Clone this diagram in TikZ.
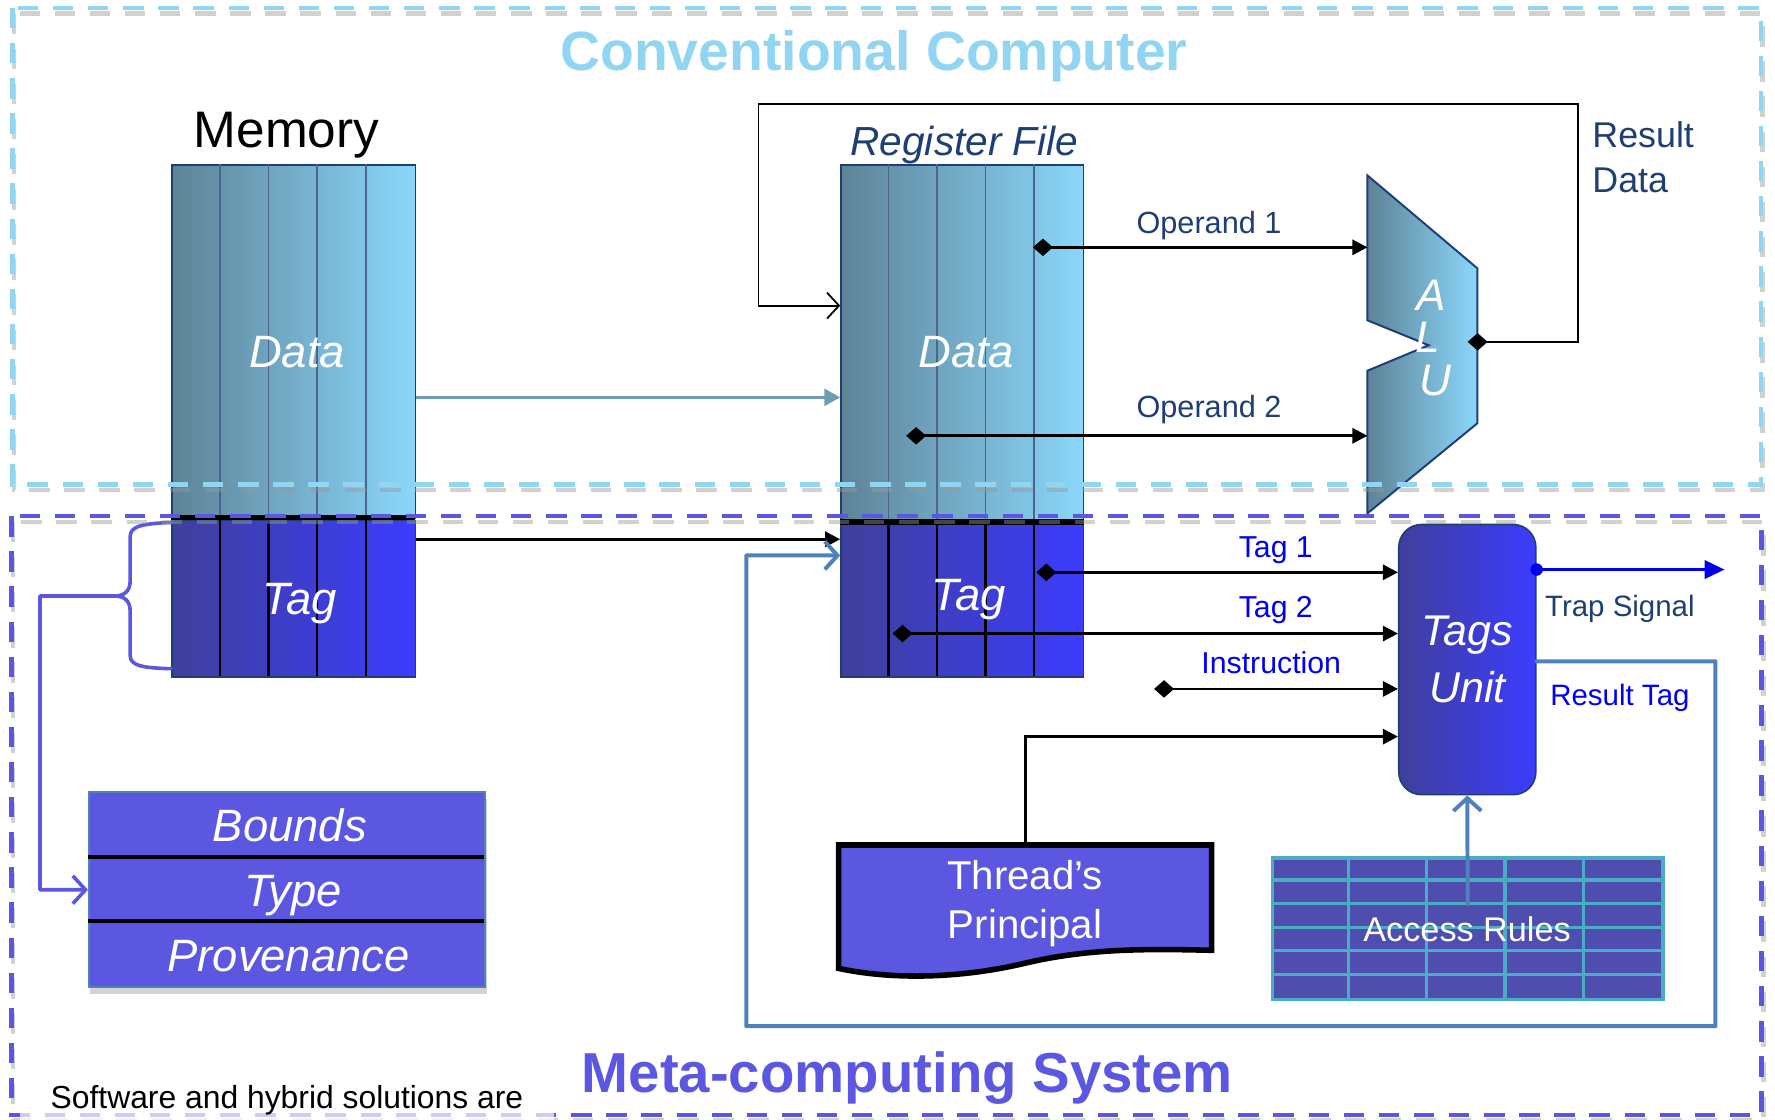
\documentclass[tikz,border=0pt]{standalone}
\usepackage{fontspec}
\setmainfont{Liberation Sans}
\usepackage{xcolor}
\usepackage{tikz}
\usetikzlibrary{arrows.meta, positioning, calc, shadows}
\definecolor{kcyan}{HTML}{92D5F3}
\definecolor{kpurple}{HTML}{5B57E0}
\definecolor{kteal}{HTML}{5E8397}
\definecolor{ksky}{HTML}{8AD7FB}
\definecolor{knavy}{HTML}{3F3F9B}
\definecolor{kblue}{HTML}{3C3CFE}
\definecolor{kink}{HTML}{1F3F73}
\definecolor{kpure}{HTML}{0000F0}
\definecolor{ksteel}{HTML}{4F81BD}
\definecolor{kgrey}{HTML}{6E9CB4}
\definecolor{kgrid}{HTML}{4BACC6}
\definecolor{krules}{HTML}{4F4DAE}

\tikzset{
  dashbox/.style={line width=1.15pt, dash pattern=on 0.18cm off 0.13cm},
  dashshadow/.style={dashbox, black!40, opacity=0.45, shift={(1.5,5)}},
  datacol/.style={draw=kink, line width=0.4pt, left color=kteal, right color=ksky, inner sep=0pt},
  tagcol/.style={draw=kink, line width=0.4pt, left color=knavy, right color=kblue, inner sep=0pt},
  celltxt/.style={text=white, anchor=base, font=\fontsize{11.4}{13.7}\selectfont\itshape},
  inktxt/.style={text=kink, anchor=base, font=\fontsize{7.7}{9.2}\selectfont},
  bluetxt/.style={text=kpure, anchor=base, font=\fontsize{7.6}{9.1}\selectfont},
  bus/.style={line width=0.7pt, arrows={Diamond[length=5pt,width=4.4pt]-Triangle[length=3.8pt,width=3.8pt]}},
  feed/.style={line width=0.45pt, arrows={-Straight Barb[length=3pt,width=6.5pt]}},
  steelline/.style={draw=ksteel, line width=1pt, line cap=round, line join=round, arrows={-Straight Barb[length=3.2pt,width=7pt]}},
  braceline/.style={draw=kpurple, line width=0.9pt, line cap=round, line join=round},
  docshape/.style={fill=kpurple, draw=black, line width=1.4pt},
}

\begin{document}
\begin{tikzpicture}[x=0.01cm, y=-0.01cm]
\useasboundingbox (0,0) rectangle (1568,989);

% memory column
\node[font=\fontsize{12.9}{15}\selectfont, anchor=base] (memlbl) at (253,130) {Memory};
\node[datacol, minimum width=2.15cm, minimum height=3.12cm] (memdata) at (259.5,302) {};
\node[tagcol, minimum width=2.15cm, minimum height=1.38cm] (memtag) at (259.5,529) {};
\foreach \i in {1,...,4} {
  \draw[kink!80, line width=0.4pt] (memdata.north west) ++(\i*43,0) -- ++(0,312);
  \draw[line width=0.6pt] (memtag.north west) ++(\i*43,0) -- ++(0,138);
}
\draw[line width=1.1pt] (memtag.north west) ++(0,-2) -- ++(215,0);
\node[celltxt] (memdatalbl) at (262.5,325) {Data};
\node[celltxt] (memtaglbl) at (265,543) {Tag};

% register file
\node[text=kink, anchor=base, font=\fontsize{10.2}{12}\selectfont\itshape] (reglbl) at (852,137) {Register File};
\node[datacol, minimum width=2.14cm, minimum height=3.14cm] (regdata) at (850,303) {};
\node[tagcol, minimum width=2.14cm, minimum height=1.36cm] (regtag) at (850,530) {};
\foreach \i in {1,...,4} {
  \draw[kink!80, line width=0.4pt] (regdata.north west) ++(\i*42.8,0) -- ++(0,314);
  \draw[line width=0.6pt] (regtag.north west) ++(\i*42.8,0) -- ++(0,136);
}
\draw[line width=1.4pt] (regtag.north west) -- (regtag.north east);
\node[celltxt] (regdatalbl) at (853.5,325) {Data};
\node[celltxt] (regtaglbl) at (856,539) {Tag};

% ALU
\shadedraw[left color=kteal, right color=ksky, draw=kink, line width=0.5pt]
  (1208,155) -- (1305,237) -- (1305,374) -- (1208,453.5) -- (1208,327.5)
  -- (1262,305) -- (1208,283) -- cycle;
\coordinate (aluin1) at (1208,218.5);
\coordinate (aluin2) at (1208,385);
\coordinate (aluout) at (1296.5,302);
\node[celltxt, font=\fontsize{11.1}{13}\selectfont\itshape] (aluA) at (1264,274) {A};
\node[celltxt, font=\fontsize{11.1}{13}\selectfont\itshape] (aluL) at (1261,311) {L};
\node[celltxt, font=\fontsize{11.1}{13}\selectfont\itshape] (aluU) at (1268,349) {U};

% operands and result
\coordinate (op1src) at (912.5,218.5);
\coordinate (op2src) at (800.5,385);
\draw[bus] (op1src) -- (aluin1);
\draw[bus] (op2src) -- (aluin2);
\node[inktxt] (op1lbl) at (1068,206) {Operand 1};
\node[inktxt] (op2lbl) at (1068,368.6) {Operand 2};
\draw[feed, arrows={Diamond[length=5pt,width=4.4pt]-Straight Barb[length=3pt,width=6.5pt]}]
  (aluout) -- (1394,302) |- (670,92) |- ([yshift=0.33cm]regdata.west);
\node[inktxt, anchor=north west, align=left, inner sep=0pt, font=\fontsize{9}{11.1}\selectfont] (reslbl) at (1406,107) {Result\\Data};

% memory to registers
\coordinate (dataout) at ([yshift=-0.49cm]memdata.east);
\draw[kgrey, line width=0.9pt, arrows={-Triangle[length=4pt,width=4.2pt]}] (dataout) -- (dataout -| regdata.west);
\coordinate (tagout) at ([yshift=0.526cm]memtag.east);
\draw[line width=0.8pt, arrows={-Triangle[length=3.8pt,width=3.8pt]}] (tagout) -- (tagout -| regtag.west);

% tags unit
\node[tagcol, rounded corners=0.2cm, minimum width=1.21cm, minimum height=2.385cm, align=center,
  text=white, font=\fontsize{10.8}{14.2}\selectfont\itshape] (tagsunit) at (1296.2,582.7) {Tags\\Unit};
\coordinate (tag1src) at (915.5,505.6);
\coordinate (tag2src) at (788.5,559.7);
\coordinate (instsrc) at (1019.5,608.6);
\draw[bus] (tag1src) -- (tag1src -| tagsunit.west);
\draw[bus] (tag2src) -- (tag2src -| tagsunit.west);
\draw[bus] (instsrc) -- (instsrc -| tagsunit.west);
\node[bluetxt] (tag1lbl) at (1127,492.3) {Tag 1};
\node[bluetxt] (tag2lbl) at (1127,545.7) {Tag 2};
\node[bluetxt] (instlbl) at (1123,595.4) {Instruction};

% trap signal and result tag
\coordinate (trapout) at ([yshift=0.795cm]tagsunit.east);
\fill[kpure] (trapout) circle (0.055cm);
\draw[kpure, line width=0.7pt, arrows={-Triangle[length=5pt,width=4.6pt]}] (trapout) -- ++(166,0);
\node[inktxt, font=\fontsize{7.4}{9}\selectfont] (traplbl) at (1431,544.8) {Trap Signal};
\node[bluetxt, font=\fontsize{7.4}{9}\selectfont] (restaglbl) at (1431,622.8) {Result Tag};
\draw[steelline] ([yshift=-0.015cm]tagsunit.east) -| (1515.4,906.5) -| (659.3,490.7) -- ([yshift=0.393cm]regtag.west);

% thread's principal
\path[docshape] (740.8,746.5) -- coordinate (threadtop) (1070.4,746.5) -- (1070.4,839.5)
  .. controls (1010,838) and (960,838) .. (905,851) .. controls (850,864) and (790,866) .. (740.8,855.5) -- cycle;
\node[text=white, align=center, font=\fontsize{10.1}{12.4}\selectfont] (thread) at (905.5,798) {Thread’s\\Principal};
\draw[line width=0.7pt, arrows={-Triangle[length=3.8pt,width=3.8pt]}] (threadtop) |- ([yshift=-0.68cm]tagsunit.west);

% access rules
\node[fill=krules, draw=kgrid, line width=0.8pt, minimum width=3.45cm, minimum height=1.25cm, inner sep=0pt] (rules) at (1296.5,820.5) {};
\foreach \i in {1,...,4}
  \draw[kgrid, line width=0.8pt] (rules.north west) ++(\i*69,0) -- ++(0,125);
\foreach \j in {1,...,5}
  \draw[kgrid, line width=0.8pt] (rules.north west) ++(0,\j*20.83) -- ++(345,0);
\draw[steelline] ([yshift=-0.42cm]rules.north) -- (tagsunit.south);
\node[text=white, anchor=base, font=\fontsize{8.6}{10}\selectfont] (ruleslbl) at (1296,832) {Access Rules};

% tag layout
\node[fill=kpurple, draw=ksteel, line width=0.4pt, minimum width=3.5cm, minimum height=1.722cm, inner sep=0pt,
  drop shadow={shadow xshift=0.4pt, shadow yshift=-1.6pt, opacity=0.35}] (tagfmt) at (253.5,786) {};
\draw[line width=1pt] (tagfmt.north west) ++(0,57.5) -- ++(350,0);
\draw[line width=1pt] (tagfmt.north west) ++(0,114.6) -- ++(350,0);
\node[celltxt] (boundslbl) at (256,743) {Bounds};
\node[celltxt] (typelbl) at (258.7,800.8) {Type};
\node[celltxt] (provlbl) at (254.9,858.5) {Provenance};
\coordinate (bracetop) at ([yshift=-0.023cm]memtag.north west);
\coordinate (bracebot) at ([yshift=0.08cm]memtag.south west);
\coordinate (bracetip) at ([xshift=-0.5cm,yshift=0.025cm]memtag.west);
\draw[braceline] (bracetop) .. controls (125,462.5) and (115,465) .. (115,474) -- (115,513)
  .. controls (115,522) and (110,526.5) .. (bracetip)
  .. controls (110,526.5) and (115,531) .. (115,540) -- (115,579)
  .. controls (115,588) and (125,590) .. (bracebot);
\draw[braceline, arrows={-Straight Barb[length=3.2pt,width=7pt]}] (bracetip) -- (35.3,526.5) |- (tagfmt.west);

% boundaries
\draw[dashshadow] (11,7) rectangle (1555.5,428);
\draw[dashbox, kcyan] (11,7) rectangle (1555.5,428);
\draw[dashshadow] (10,456) rectangle (1556.3,985);
\draw[dashbox, kpurple] (10,456) rectangle (1556.3,985);
\node[font=\fontsize{13.9}{16}\selectfont\bfseries, text=kcyan, anchor=base] (convtitle) at (772,62.2) {Conventional Computer};
\node[font=\fontsize{14.15}{16}\selectfont\bfseries, text=kpurple, anchor=base] (metatitle) at (801.6,964.9) {Meta-computing System};
\node[anchor=base west, font=\fontsize{8}{9.6}\selectfont, fill=white, fill opacity=0.7, text opacity=1,
  inner xsep=0.27cm, inner ysep=0.1cm] (swnote) at (17,979) {Software and hybrid solutions are};
\end{tikzpicture}
\end{document}
